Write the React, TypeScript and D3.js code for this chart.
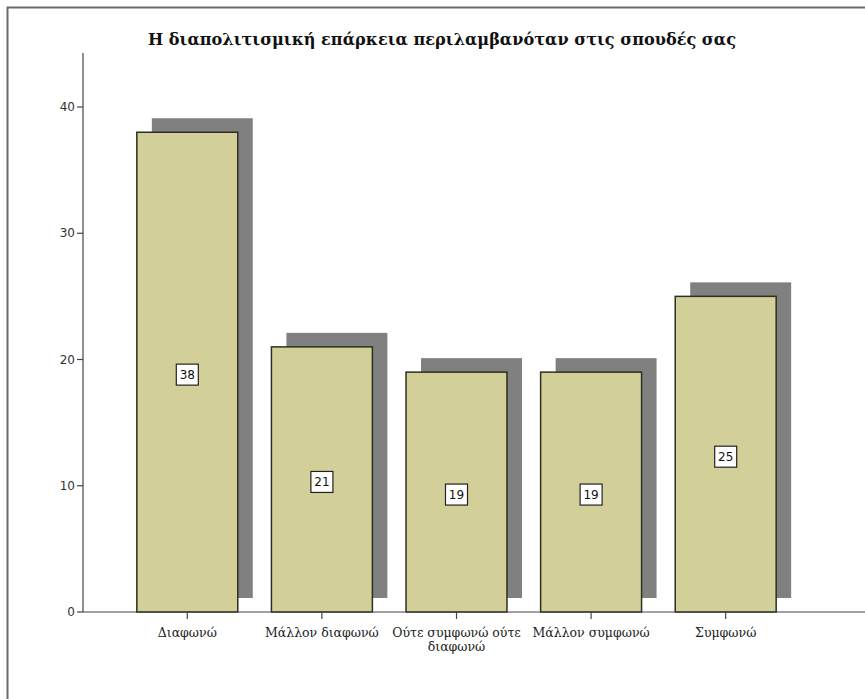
import { useEffect, useRef } from "react";
import * as d3 from "d3";

const categories = [
  "Διαφωνώ",
  "Μάλλον διαφωνώ",
  "Ούτε συμφωνώ ούτε διαφωνώ",
  "Μάλλον συμφωνώ",
  "Συμφωνώ",
];
const counts = [38, 21, 19, 19, 25];
const yTicks = [0, 10, 20, 30, 40];
const labelLines: Record<string, string[]> = {
  "Ούτε συμφωνώ ούτε διαφωνώ": ["Ούτε συμφωνώ ούτε", "διαφωνώ"],
};
const title = "Η διαπολιτισμική επάρκεια περιλαμβανόταν στις σπουδές σας";

const W = 865;
const H = 699;

export default function App() {
  const svgRef = useRef<SVGSVGElement>(null);

  useEffect(() => {
    if (!svgRef.current) return;
    const svg = d3.select(svgRef.current);
    svg.selectAll("*").remove();

    const axisX = 83;
    const baseY = 612;

    const x = d3
      .scaleBand<string>()
      .domain(categories)
      .range([120, 793])
      .paddingInner(0.25)
      .paddingOuter(0.125);

    const y = d3.scaleLinear().domain([0, 40]).range([baseY, 107]);

    // frame
    svg
      .append("path")
      .attr("d", `M7.5,${H} L7.5,7.5 L${W},7.5`)
      .attr("fill", "none")
      .attr("stroke", "#6b6b6b")
      .attr("stroke-width", 2);

    // title
    svg
      .append("text")
      .attr("x", 442)
      .attr("y", 45)
      .attr("text-anchor", "middle")
      .attr("textLength", 588)
      .attr("lengthAdjust", "spacingAndGlyphs")
      .style("font-family", "'DejaVu Serif', 'Liberation Serif', serif")
      .style("font-weight", "bold")
      .style("font-size", "17px")
      .style("fill", "#111")
      .text(title);

    const dx = 15;
    const dy = -14;

    // shadows
    svg
      .selectAll(".shadow")
      .data(counts)
      .enter()
      .append("rect")
      .attr("x", (_d, i) => (x(categories[i]) || 0) + dx)
      .attr("y", (d) => y(d) + dy)
      .attr("width", x.bandwidth())
      .attr("height", (d) => baseY - y(d))
      .attr("fill", "#808080");

    // bars
    svg
      .selectAll(".bar")
      .data(counts)
      .enter()
      .append("rect")
      .attr("x", (_d, i) => x(categories[i]) || 0)
      .attr("y", (d) => y(d))
      .attr("width", x.bandwidth())
      .attr("height", (d) => baseY - y(d))
      .attr("fill", "#d3cf98")
      .attr("stroke", "#2e2e22")
      .attr("stroke-width", 1.5);

    // y axis
    const gy = svg.append("g").attr("transform", `translate(${axisX},0)`);
    gy.append("line")
      .attr("x1", 0)
      .attr("x2", 0)
      .attr("y1", 53)
      .attr("y2", baseY)
      .attr("stroke", "#444")
      .attr("stroke-width", 1.2);
    const yt = gy
      .selectAll(".yt")
      .data(yTicks)
      .enter()
      .append("g")
      .attr("transform", (d) => `translate(0,${y(d)})`);
    yt.append("line")
      .attr("x1", -6)
      .attr("x2", 0)
      .attr("stroke", "#444")
      .attr("stroke-width", 1.2);
    yt.append("text")
      .attr("x", -8)
      .attr("dy", "0.35em")
      .attr("text-anchor", "end")
      .style("font-family", "'DejaVu Sans', sans-serif")
      .style("font-size", "12px")
      .style("fill", "#333")
      .text((d) => d);

    // x axis
    svg
      .append("line")
      .attr("x1", axisX)
      .attr("x2", W)
      .attr("y1", baseY)
      .attr("y2", baseY)
      .attr("stroke", "#444")
      .attr("stroke-width", 1.2);
    const xt = svg
      .selectAll(".xt")
      .data(categories)
      .enter()
      .append("g")
      .attr("transform", (d) => `translate(${(x(d) || 0) + x.bandwidth() / 2},${baseY})`);
    xt.append("line")
      .attr("y1", 0)
      .attr("y2", 7)
      .attr("stroke", "#444")
      .attr("stroke-width", 1.2);
    xt.each(function (d) {
      const lines = labelLines[d] || [d];
      const t = d3
        .select(this)
        .append("text")
        .attr("text-anchor", "middle")
        .style("font-family", "'DejaVu Serif', 'Liberation Serif', serif")
        .style("font-size", "12.5px")
        .style("fill", "#222");
      lines.forEach((ln, k) => {
        t.append("tspan")
          .attr("x", 0)
          .attr("y", 25 + k * 14)
          .text(ln);
      });
    });

    // value labels
    const vl = svg
      .selectAll(".vl")
      .data(counts)
      .enter()
      .append("g")
      .attr(
        "transform",
        (d, i) => `translate(${(x(categories[i]) || 0) + x.bandwidth() / 2},${y(d / 2) + 2})`,
      );
    vl.append("rect")
      .attr("x", -11)
      .attr("y", -10)
      .attr("width", 22)
      .attr("height", 21)
      .attr("fill", "#fff")
      .attr("stroke", "#222")
      .attr("stroke-width", 1.2);
    vl.append("text")
      .attr("dy", "0.38em")
      .attr("text-anchor", "middle")
      .style("font-family", "'DejaVu Sans', sans-serif")
      .style("font-size", "12px")
      .style("fill", "#111")
      .text((d) => d);
  }, []);

  return (
    <svg
      ref={svgRef}
      width={W}
      height={H}
      viewBox={`0 0 ${W} ${H}`}
      style={{ position: "absolute", left: 0, top: 0, background: "#fff" }}
    />
  );
}
